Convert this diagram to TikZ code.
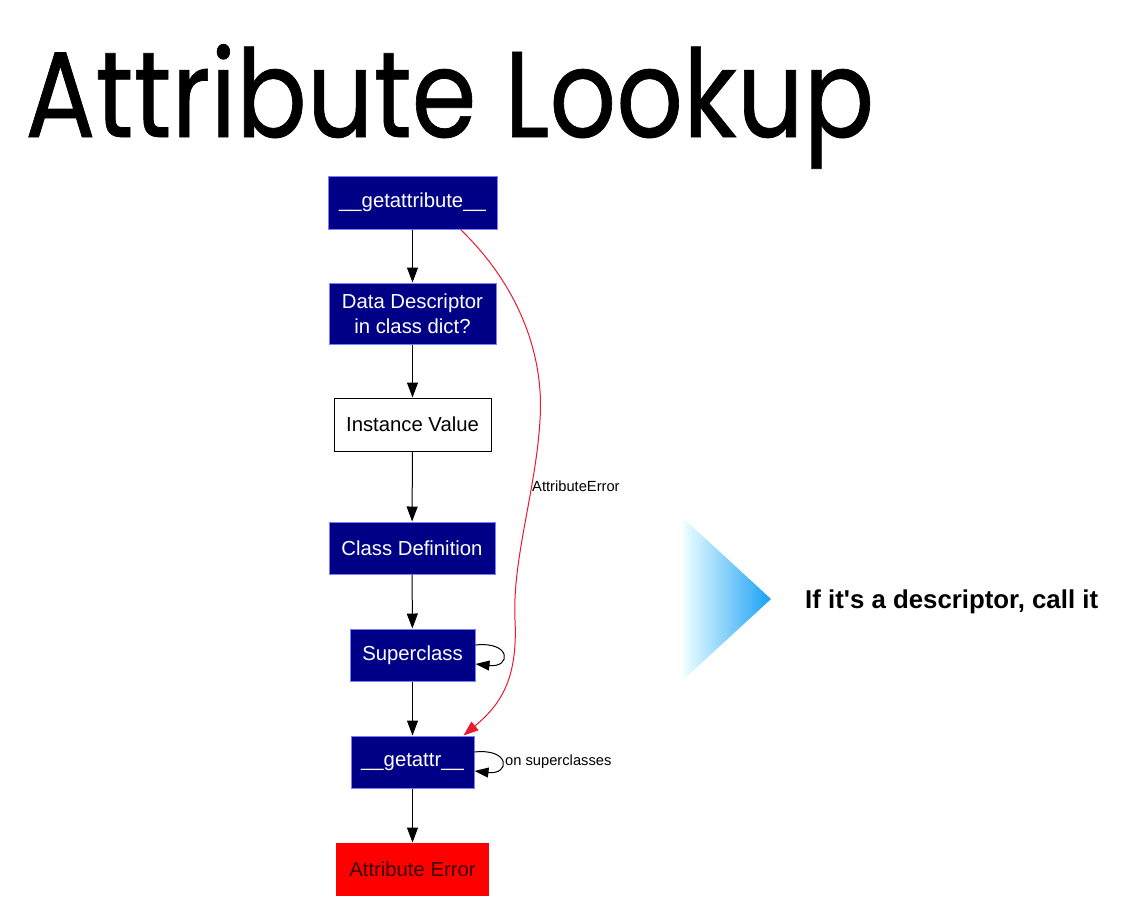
\documentclass[tikz,border=0pt]{standalone}
\usepackage{fontspec}
\setmainfont{Liberation Sans}
\newfontfamily\hintfont[Ligatures=TeXOff]{Liberation Sans}
\newfontfamily\titlefont[FakeBold=0.6]{Poppins}
\usetikzlibrary{arrows.meta,calc}
\definecolor{boxnavy}{RGB}{0,0,135}
\definecolor{boxedge}{RGB}{125,125,255}
\definecolor{errred}{RGB}{255,0,0}
\definecolor{errtext}{RGB}{60,0,0}
\definecolor{flowred}{RGB}{235,25,45}
\definecolor{tipblue}{RGB}{25,160,245}
\definecolor{tipcyan}{RGB}{120,225,250}
\definecolor{tippale}{RGB}{238,255,255}

\begin{document}
\begin{tikzpicture}[x=1pt,y=-1pt,
  stepbox/.style={draw=boxedge, line width=1pt, fill=boxnavy, text=white,
    font=\fontsize{20.3}{25}\selectfont, inner sep=0pt, align=center},
  plainbox/.style={stepbox, draw=black, fill=white, text=black},
  errbox/.style={stepbox, draw=none, fill=errred, text=errtext},
  flow/.style={draw=black, line width=1pt, -{Triangle[length=15pt,width=11pt]}},
  loopflow/.style={flow, -{Triangle[length=14pt,width=10pt]}},
  errflow/.style={draw=flowred, line width=1pt, -{Triangle[length=15pt,width=11pt]}},
  edgelabel/.style={font=\fontsize{14.7}{16}\selectfont, text=black, inner sep=0pt}]

\useasboundingbox (0,0) rectangle (1121,914);

% heading
\node[anchor=base west, inner sep=0pt, font=\titlefont\fontsize{122}{130}\selectfont] (title) at (25,137) {\scalebox{0.856}[1]{Attribute Lookup}};

% lookup chain
\node[stepbox, minimum width=169pt, minimum height=53pt] (ga) at (412.5,202.5) {\_\_getattribute\_\_};
\node[stepbox, minimum width=167pt, minimum height=61pt] (dd) at (412.5,313.5) {Data Descriptor\\in class dict?};
\node[plainbox, minimum width=157pt, minimum height=53pt] (iv) at (412.5,424.5) {Instance Value};
\node[stepbox, minimum width=166pt, minimum height=52pt] (cd) at (412,548) {Class Definition};
\node[stepbox, minimum width=125pt, minimum height=52pt] (sc) at (412.5,655) {Superclass};
\node[stepbox, minimum width=123pt, minimum height=52pt] (gt) at (412.5,762) {\_\_getattr\_\_};
\node[errbox, minimum width=153pt, minimum height=53pt] (ae) at (412.5,869.5) {Attribute Error};

\draw[flow] (ga) -- (dd);
\draw[flow] (dd) -- (iv);
\draw[flow] (iv) -- (cd);
\draw[flow] (cd) -- (sc);
\draw[flow] (sc) -- (gt);
\draw[flow] (gt) -- (ae);

% self loops
\draw[loopflow] ($(sc.east)+(0,-10)$) .. controls +(36,-4) and +(36,4) .. ($(sc.east)+(0,9)$);
\draw[loopflow] ($(gt.east)+(0,-10)$) .. controls +(36,-4) and +(36,4) .. ($(gt.east)+(0,9)$);
\node[edgelabel, anchor=west] (onsup) at (505,762) {on superclasses};

% AttributeError shortcut
\draw[errflow] ($(ga.south east)+(-37,0)$)
  .. controls +(50,48) and (545,345) .. (540,420)
  .. controls (536,490) and (512,560) .. (515,620)
  .. controls (518,680) and (500,705) .. ($(gt.north east)+(-11,0)$);
\node[edgelabel, anchor=west] (aelabel) at (532,486) {AttributeError};

% descriptor hint
\shade[left color=tippale, middle color=tipcyan, right color=tipblue]
  (683,518) -- (771,599) -- (683,680) -- cycle;
\node[anchor=west, inner sep=0pt, font=\hintfont\bfseries\fontsize{25.8}{30}\selectfont] (hint) at (805,602) {If it's a descriptor, call it};

\end{tikzpicture}
\end{document}
